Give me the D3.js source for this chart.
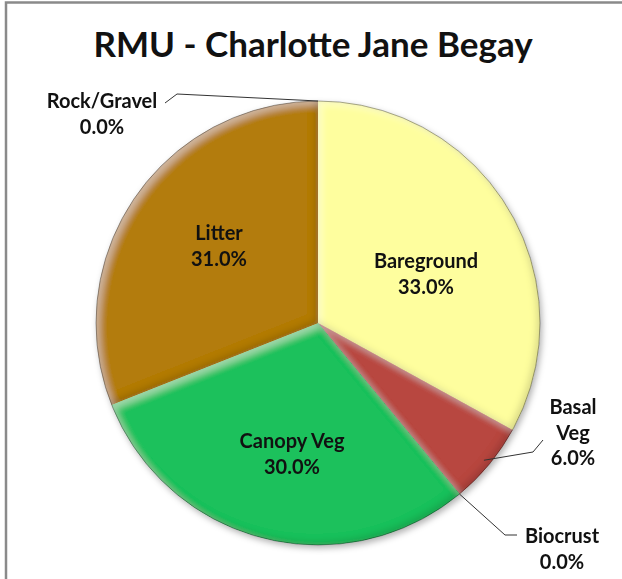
<!DOCTYPE html>
<html>
<head>
<meta charset="utf-8">
<script src="https://cdn.jsdelivr.net/npm/d3@7"></script>
<style>
  html, body { margin: 0; padding: 0; background: #fff; }
  svg { display: block; }
  text { font-family: Lato, "Open Sans", sans-serif; font-weight: bold; fill: #111; }
</style>
</head>
<body>
<svg id="chart" width="622" height="579"></svg>
<script>
// ---- data ----
const title = "RMU - Charlotte Jane Begay";
const categories = ["Bareground", "Basal Veg", "Biocrust", "Canopy Veg", "Litter", "Rock/Gravel"];
const values = [33.0, 6.0, 0.0, 30.0, 31.0, 0.0];
const labelLines = [["Bareground"], ["Basal", "Veg"], ["Biocrust"], ["Canopy Veg"], ["Litter"], ["Rock/Gravel"]];
const sliceColors = ["#FEFE9E", "#B8463F", "#B8463F", "#1FC15B", "#B37B0E", "#888888"];

// ---- layout (not data) ----
const W = 622, H = 579;
const cx = 318, cy = 323, R = 222;
const labelFont = 20;
const lineH = 25.5;
// label anchor = x centre, y of first baseline; leader = [elbow, end] points near label
const labelLayout = {
  "Bareground": { x: 426, y: 268 },
  "Basal Veg":  { x: 573, y: 414, leader: [[533, 452], [543, 440]], r: 0.97 },
  "Biocrust":   { x: 562, y: 543, leader: [[505, 535], [517, 535]], r: 1.0 },
  "Canopy Veg": { x: 292, y: 448 },
  "Litter":     { x: 219, y: 240 },
  "Rock/Gravel":{ x: 102, y: 108, leader: [[177, 94], [165, 103]], r: 1.0 }
};

const svg = d3.select("#chart");
const defs = svg.append("defs");

// bevel filter
const f = defs.append("filter").attr("id", "bevel")
  .attr("x", "-10%").attr("y", "-10%").attr("width", "120%").attr("height", "120%");
f.append("feGaussianBlur").attr("in", "SourceAlpha").attr("stdDeviation", 3.5).attr("result", "b");
f.append("feOffset").attr("in", "b").attr("dx", 3.5).attr("dy", 3.5).attr("result", "bo1");
f.append("feComposite").attr("in", "SourceAlpha").attr("in2", "bo1").attr("operator", "arithmetic")
  .attr("k2", 1).attr("k3", -1).attr("result", "hl");
f.append("feFlood").attr("flood-color", "#ffffff").attr("flood-opacity", 0.35).attr("result", "wf");
f.append("feComposite").attr("in", "wf").attr("in2", "hl").attr("operator", "in").attr("result", "hlc");
f.append("feOffset").attr("in", "b").attr("dx", -3.5).attr("dy", -3.5).attr("result", "bo2");
f.append("feComposite").attr("in", "SourceAlpha").attr("in2", "bo2").attr("operator", "arithmetic")
  .attr("k2", 1).attr("k3", -1).attr("result", "sh");
f.append("feFlood").attr("flood-color", "#000000").attr("flood-opacity", 0.3).attr("result", "bf");
f.append("feComposite").attr("in", "bf").attr("in2", "sh").attr("operator", "in").attr("result", "shc");
const fm = f.append("feMerge");
fm.append("feMergeNode").attr("in", "SourceGraphic");
fm.append("feMergeNode").attr("in", "hlc");
fm.append("feMergeNode").attr("in", "shc");

const ds = defs.append("filter").attr("id", "drop")
  .attr("x", "-10%").attr("y", "-10%").attr("width", "125%").attr("height", "125%");
ds.append("feDropShadow").attr("dx", 2).attr("dy", 3).attr("stdDeviation", 3)
  .attr("flood-color", "#000").attr("flood-opacity", 0.3);

// frame
svg.append("rect").attr("x", 6).attr("y", 2.5).attr("width", W + 100).attr("height", H + 100)
  .attr("fill", "#fff").attr("stroke", "#8a8a8a").attr("stroke-width", 2.5);

// title
svg.append("text").attr("x", 313).attr("y", 57).attr("text-anchor", "middle")
  .style("font-size", "35px").text(title);

const data = categories.map((c, i) => ({ name: c, value: values[i], lines: labelLines[i], color: sliceColors[i] }));
const pie = d3.pie().sort(null).value(d => d.value).startAngle(0).endAngle(2 * Math.PI);
const arcs = pie(data);
const arc = d3.arc().innerRadius(0).outerRadius(R);

const g = svg.append("g").attr("transform", `translate(${cx},${cy})`);
const pg = g.append("g").attr("filter", "url(#drop)");
pg.selectAll("path").data(arcs.filter(a => a.value > 0)).join("path")
  .attr("d", arc).attr("fill", d => d.data.color).attr("filter", "url(#bevel)");
pg.append("circle").attr("r", R).attr("fill", "none").attr("stroke", "rgba(0,0,0,0.35)").attr("stroke-width", 1);

// labels
const pct = d3.format(".1f");
arcs.forEach(a => {
  const L = labelLayout[a.data.name];
  const lines = a.data.lines.concat([pct(a.data.value) + "%"]);
  if (L.leader) {
    const mid = (a.startAngle + a.endAngle) / 2;
    const rr = R * L.r;
    const p0 = [cx + rr * Math.sin(mid), cy - rr * Math.cos(mid)];
    const pts = [p0].concat(L.leader);
    svg.append("path").attr("d", d3.line()(pts)).attr("fill", "none")
      .attr("stroke", "#333").attr("stroke-width", 1);
  }
  const t = svg.append("text").attr("text-anchor", "middle").style("font-size", labelFont + "px");
  lines.forEach((s, i) => {
    t.append("tspan").attr("x", L.x).attr("y", L.y + i * lineH).text(s);
  });
});
</script>
</body>
</html>
